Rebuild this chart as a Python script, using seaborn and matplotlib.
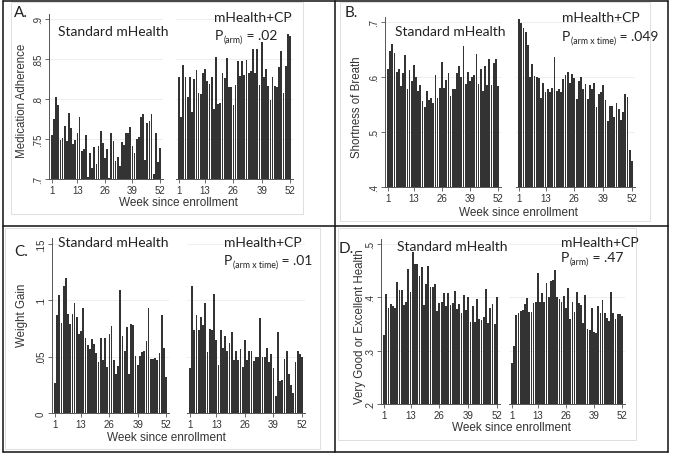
import matplotlib
matplotlib.use("Agg")
import matplotlib.pyplot as plt
from matplotlib.lines import Line2D
from matplotlib.patches import Rectangle
import seaborn as sns

# ---------------- data ----------------
weeks = list(range(1, 53))
xtick_weeks = [1, 13, 26, 39, 52]

a_std = [.755, .775, .803, .792, .749, .751, .766, .747, .782, .764,
         .744, .749, .757, .777, .735, .738, .755, .702, .733, .714,
         .740, .719, .741, .760, .745, .726, .738, .701, .757, .747,
         .722, .727, .716, .746, .743, .757, .757, .765, .741, .733,
         .750, .752, .778, .781, .724, .770, .772, .781, .706, .758,
         .721, .739]
a_cp = [.828, .777, .843, .828, .803, .828, .784, .825, .836, .807,
        .806, .833, .838, .822, .819, .828, .788, .852, .794, .795,
        .833, .826, .851, .815, .815, .793, .818, .847, .829, .847,
        .830, .849, .833, .835, .863, .833, .863, .818, .871, .828,
        .837, .816, .799, .827, .816, .815, .840, .860, .808, .841,
        .881, .879]

b_std = [.615, .648, .660, .643, .610, .615, .583, .608, .640, .578,
         .612, .593, .622, .600, .575, .585, .557, .546, .575, .558,
         .561, .552, .603, .562, .580, .628, .580, .594, .607, .565,
         .578, .578, .607, .620, .600, .657, .587, .609, .593, .600,
         .603, .641, .588, .614, .574, .620, .585, .633, .586, .625,
         .632, .584]
b_cp = [.705, .699, .690, .682, .658, .600, .624, .602, .600, .598,
        .562, .590, .572, .578, .572, .580, .637, .575, .578, .572,
        .596, .603, .610, .590, .606, .598, .560, .592, .600, .578,
        .588, .560, .585, .578, .590, .545, .570, .572, .585, .558,
        .520, .548, .548, .528, .553, .542, .522, .536, .570, .564,
        .467, .447]

c_std = [.027, .087, .105, .080, .113, .120, .088, .079, .088, .098,
         .085, .070, .073, .093, .067, .060, .057, .066, .061, .053,
         .045, .067, .047, .067, .041, .070, .077, .047, .035, .042,
         .109, .068, .055, .076, .035, .079, .078, .051, .043, .051,
         .054, .055, .064, .093, .048, .048, .049, .047, .053, .087,
         .058, .032]
c_cp = [.040, .113, .074, .087, .074, .085, .078, .098, .054, .075,
        .074, .106, .065, .043, .074, .058, .068, .055, .062, .072,
        .047, .055, .047, .057, .041, .065, .047, .055, .055, .046,
        .050, .050, .084, .050, .050, .058, .045, .052, .040, .015,
        .072, .028, .029, .048, .055, .035, .025, .018, .045, .055,
        .052, .050]

d_std = [.330, .407, .380, .387, .383, .380, .428, .414, .413, .385,
         .392, .453, .410, .485, .463, .462, .440, .456, .385, .425,
         .458, .420, .420, .425, .375, .390, .392, .408, .383, .408,
         .385, .390, .412, .378, .387, .371, .405, .376, .400, .353,
         .383, .353, .397, .360, .357, .363, .416, .352, .380, .388,
         .350, .400]
d_cp = [.276, .309, .366, .370, .374, .376, .388, .398, .372, .372,
        .390, .392, .445, .392, .409, .392, .426, .400, .430, .433,
        .451, .400, .396, .392, .402, .380, .417, .360, .392, .372,
        .410, .390, .385, .352, .405, .340, .338, .380, .335, .333,
        .383, .370, .395, .370, .362, .355, .410, .370, .360, .368,
        .368, .365]

a_yticks = [.7, .75, .8, .85, .9]
a_ylabels = [".7", ".75", ".8", ".85", ".9"]
b_yticks = [.4, .5, .6, .7]
b_ylabels = [".4", ".5", ".6", ".7"]
c_yticks = [0, .05, .1, .15]
c_ylabels = ["0", ".05", ".1", ".15"]
d_yticks = [.2, .3, .4, .5]
d_ylabels = [".2", ".3", ".4", ".5"]

panel_letters = ["A.", "B.", "C.", "D."]
y_titles = ["Medication Adherence", "Shortness of Breath", "Weight Gain",
            "Very Good or Excellent Health"]
x_title = "Week since enrollment"
arm_labels = ["Standard mHealth", "mHealth+CP"]
p_subs = ["(arm)", "(arm x time)", "(arm x time)", "(arm)"]
p_vals = [" = .02", " = .049", " = .01", " = .47"]

# ---------------- style ----------------
sns.set_theme(style="white")
plt.rcParams["font.family"] = ["Liberation Sans", "DejaVu Sans"]

W, H = 673, 456
fig = plt.figure(figsize=(W / 100, H / 100), dpi=100)
fig.patch.set_facecolor("white")
renderer = fig.canvas.get_renderer()

BAR = "#333333"
AXC = "#555555"
TXT = "#222222"
XLIM = (-0.4, 53.4)


def rect(px_w1, px_w52, py_lo, py_hi, v_lo, v_hi, ylim):
    s = (px_w52 - px_w1) / 51.0
    x0 = px_w1 + (XLIM[0] - 1) * s
    x1 = px_w1 + (XLIM[1] - 1) * s
    t = (py_lo - py_hi) / (v_hi - v_lo)
    ybot = py_lo - (ylim[0] - v_lo) * t
    ytop = py_lo - (ylim[1] - v_lo) * t
    return [x0 / W, 1 - ybot / H, (x1 - x0) / W, (ybot - ytop) / H]


def fx(x):
    return x / W


def fy(y):
    return 1 - y / H


layouts = [
    dict(left=(52, 160), right=(179, 290), yp=(180, 20), yv=(.7, .9), ylim=(.7, .906),
         letter=(14, 13), ytitle=(22, 101), xtitle=(178, 203), std=(58, 32), cp=(214, 18), p=(215, 40)),
    dict(left=(388, 498), right=(519, 632), yp=(188, 23), yv=(.4, .7), ylim=(.4, .71),
         letter=(345, 13), ytitle=(357, 107), xtitle=(518, 213), std=(395, 32), cp=(562, 18), p=(562, 41)),
    dict(left=(55, 166), right=(190, 302), yp=(414, 245), yv=(0, .15), ylim=(0, .155),
         letter=(14, 252), ytitle=(22, 315), xtitle=(166, 438), std=(58, 243), cp=(224, 243), p=(224, 265)),
    dict(left=(384, 497), right=(512, 622), yp=(405, 245), yv=(.2, .5), ylim=(.2, .51),
         letter=(339, 249), ytitle=(360, 327), xtitle=(511, 428), std=(397, 247), cp=(561, 243), p=(561, 262)),
]

series = [(a_std, a_cp), (b_std, b_cp), (c_std, c_cp), (d_std, d_cp)]
yticks_all = [(a_yticks, a_ylabels), (b_yticks, b_ylabels), (c_yticks, c_ylabels), (d_yticks, d_ylabels)]


def draw(ax, vals, ylim, yt, ytl, show_y):
    sns.barplot(x=weeks, y=vals, native_scale=True, color=BAR, width=0.82,
                saturation=1, errorbar=None, linewidth=0, edgecolor="none", ax=ax)
    ax.set_xlim(*XLIM)
    ax.set_ylim(*ylim)
    ax.set_xticks(xtick_weeks)
    ax.set_xticklabels([str(w) for w in xtick_weeks])
    ax.set_yticks(yt)
    ax.set_xlabel("")
    ax.set_ylabel("")
    ax.patch.set_alpha(0)
    ax.grid(axis="y", color="#ebebeb", lw=0.6)
    ax.grid(axis="x", visible=False)
    ax.set_axisbelow(True)
    for s in ["top", "right"]:
        ax.spines[s].set_visible(False)
    ax.spines["bottom"].set_color(AXC)
    ax.spines["bottom"].set_linewidth(0.7)
    ax.tick_params(axis="x", length=3, width=0.6, color=AXC, labelsize=7,
                   labelcolor="#333333", pad=1.5, bottom=True)
    if show_y:
        ax.set_yticklabels(ytl)
        ax.spines["left"].set_color(AXC)
        ax.spines["left"].set_linewidth(0.7)
        ax.tick_params(axis="y", length=3, width=0.6, color=AXC, labelsize=7,
                       labelcolor="#333333", pad=1.5, left=True)
        for lab in ax.get_yticklabels():
            lab.set_rotation(90)
            lab.set_va("center")
    else:
        ax.spines["left"].set_visible(False)
        ax.tick_params(axis="y", length=0, labelleft=False)


def p_label(x, y_base, sub, rest):
    t1 = fig.text(fx(x), fy(y_base), "P", family="Lato", fontsize=10,
                  ha="left", va="baseline", color=TXT)
    bb = t1.get_window_extent(renderer)
    t2 = fig.text((bb.x1 + 0.5) / W, fy(y_base + 3), sub, family="Lato", fontsize=6.3,
                  ha="left", va="baseline", color=TXT)
    bb2 = t2.get_window_extent(renderer)
    fig.text((bb2.x1 + 0.3) / W, fy(y_base), rest, family="Lato", fontsize=10,
             ha="left", va="baseline", color=TXT)


for i, lay in enumerate(layouts):
    std_vals, cp_vals = series[i]
    yt, ytl = yticks_all[i]
    ax_l = fig.add_axes(rect(*lay["left"], *lay["yp"], *lay["yv"], lay["ylim"]))
    ax_r = fig.add_axes(rect(*lay["right"], *lay["yp"], *lay["yv"], lay["ylim"]))
    draw(ax_l, std_vals, lay["ylim"], yt, ytl, True)
    draw(ax_r, cp_vals, lay["ylim"], yt, ytl, False)

    fig.text(fx(lay["letter"][0]), fy(lay["letter"][1]), panel_letters[i],
             family="Lato", fontsize=11, ha="left", va="center", color=TXT)
    fig.text(fx(lay["ytitle"][0]), fy(lay["ytitle"][1]), y_titles[i],
             fontsize=8.3, rotation=90, ha="center", va="center", color="#333333")
    fig.text(fx(lay["xtitle"][0]), fy(lay["xtitle"][1]), x_title,
             fontsize=8.5, ha="center", va="center", color="#333333")
    fig.text(fx(lay["std"][0]), fy(lay["std"][1]), arm_labels[0],
             family="Lato", fontsize=10, ha="left", va="center", color=TXT)
    fig.text(fx(lay["cp"][0]), fy(lay["cp"][1]), arm_labels[1],
             family="Lato", fontsize=10, ha="left", va="center", color=TXT)
    p_label(lay["p"][0], lay["p"][1], p_subs[i], p_vals[i])

# faint borders of each panel picture
for (x0, y0, x1, y1) in [(11, 3, 303, 215), (340, 3, 650, 222), (5, 229, 320, 450), (338, 229, 636, 441)]:
    fig.add_artist(Rectangle((fx(x0), fy(y1)), (x1 - x0) / W, (y1 - y0) / H,
                             transform=fig.transFigure, fill=False, ec="#dedede", lw=0.7))

# table lines
lines = [((3, 2), (668, 2)), ((3, 453), (668, 453)), ((3, 2), (3, 453)),
         ((668, 2), (668, 453)), ((335, 2), (335, 453)), ((3, 227), (668, 227))]
for (p0, p1) in lines:
    fig.add_artist(Line2D([fx(p0[0]), fx(p1[0])], [fy(p0[1]), fy(p1[1])],
                          transform=fig.transFigure, color="#111111", lw=1.1))

fig.savefig("out.png", dpi=100, facecolor="white")
